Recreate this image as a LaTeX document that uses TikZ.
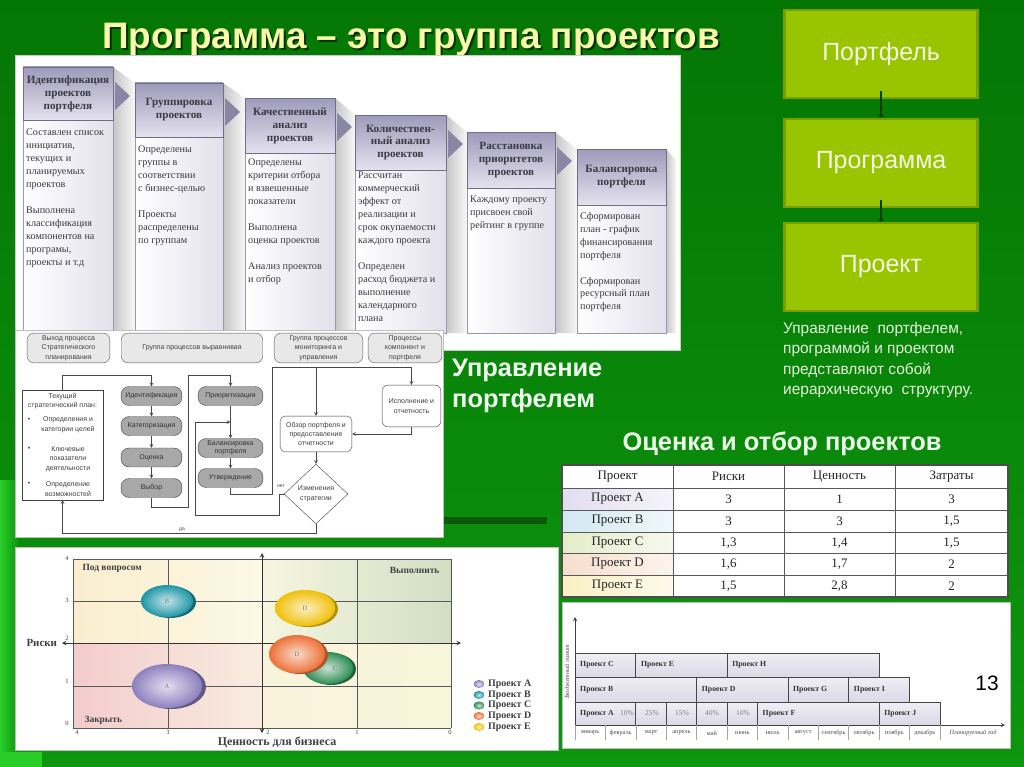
\documentclass[tikz,border=0pt]{standalone}
\usepackage{fontspec}
\setmainfont{Liberation Sans}
\newfontfamily\russerif{Liberation Serif}
\usetikzlibrary{shapes.geometric, positioning, calc}

\definecolor{bgtop}{RGB}{4,118,4}
\definecolor{bgbot}{RGB}{14,150,14}
\definecolor{bgbright}{RGB}{40,205,40}
\definecolor{darkstrip}{RGB}{10,88,10}
\definecolor{titlecol}{RGB}{250,250,168}
\definecolor{hierfill}{RGB}{153,197,0}
\definecolor{hierdraw}{RGB}{118,160,0}
\definecolor{hiertext}{RGB}{246,246,228}
\definecolor{hierarrow}{RGB}{0,62,0}
\definecolor{paratext}{RGB}{228,242,220}
\definecolor{hdrtop}{RGB}{158,154,186}
\definecolor{hdrbot}{RGB}{228,226,238}
\definecolor{colline}{RGB}{112,108,138}
\definecolor{bodyright}{RGB}{226,225,236}
\definecolor{chevron}{RGB}{138,134,166}
\definecolor{txtgray}{RGB}{58,58,64}
\definecolor{lanegray}{RGB}{232,232,232}
\definecolor{pillgray}{RGB}{168,168,168}
\definecolor{flowline}{RGB}{72,72,72}
\definecolor{rowA}{RGB}{226,222,240}
\definecolor{rowB}{RGB}{210,232,242}
\definecolor{rowC}{RGB}{228,236,202}
\definecolor{rowD}{RGB}{246,222,204}
\definecolor{rowE}{RGB}{249,240,196}
\definecolor{bubA}{RGB}{140,128,190}
\definecolor{bubB}{RGB}{30,150,165}
\definecolor{bubC}{RGB}{45,140,85}
\definecolor{bubD}{RGB}{236,112,55}
\definecolor{bubE}{RGB}{240,192,10}
\definecolor{gbartop}{RGB}{240,239,246}
\definecolor{gbarbot}{RGB}{218,216,230}
\definecolor{qtlL}{RGB}{250,238,206}
\definecolor{qtlR}{RGB}{251,248,228}
\definecolor{qtrL}{RGB}{247,246,224}
\definecolor{qtrR}{RGB}{210,222,196}
\definecolor{qblL}{RGB}{243,204,204}
\definecolor{qblR}{RGB}{249,236,224}
\definecolor{qbrL}{RGB}{250,243,220}
\definecolor{qbrR}{RGB}{247,245,218}

\tikzset{
  titletext/.style={font=\bfseries\fontsize{37}{40}\selectfont},
  hier/.style={draw=hierdraw, line width=2.5bp, fill=hierfill, text=hiertext,
    minimum width=194, minimum height=88, font=\fontsize{25}{27}\selectfont},
  hierlink/.style={-to, draw=hierarrow, line width=1.1bp, shorten <=-8bp},
  hdrtext/.style={font=\russerif\bfseries\fontsize{11.2}{13}\selectfont, text=txtgray,
    align=center, inner sep=0},
  bodytext/.style={font=\russerif\fontsize{10.2}{13}\selectfont, text=txtgray,
    align=left, inner sep=0, anchor=north west},
  lane/.style={draw=gray!70!black, fill=lanegray, rounded corners=7, minimum height=30,
    align=center, inner sep=1, font=\fontsize{7}{9.5}\selectfont, text=black!75},
  pill/.style={draw=gray!50!black, fill=pillgray, rounded corners=8, minimum height=19,
    align=center, inner sep=1, font=\fontsize{7}{8.5}\selectfont, text=black!80},
  fbox/.style={draw=gray!50!black, fill=white, align=center, inner sep=1,
    font=\fontsize{7}{9.5}\selectfont, text=black!75},
  ftext/.style={align=center, inner sep=0, font=\fontsize{7}{9.5}\selectfont, text=black!75},
  flow/.style={->, draw=flowline, line width=0.7bp},
  fline/.style={draw=flowline, line width=0.7bp},
  tabtext/.style={font=\russerif\fontsize{13}{14}\selectfont, text=black!85},
  chartlbl/.style={font=\russerif\bfseries\fontsize{9.5}{10}\selectfont, text=black!75},
  tick/.style={font=\russerif\fontsize{6.5}{7}\selectfont, text=black!75},
  legtext/.style={font=\russerif\bfseries\fontsize{10}{11}\selectfont, text=black!75, anchor=west, inner sep=0},
  bubble/.style={inner color=#1!25, outer color=#1},
  gbar/.style={top color=gbartop, bottom color=gbarbot, draw=gray!55!black, line width=0.8bp},
  gtext/.style={font=\russerif\bfseries\fontsize{7.8}{8}\selectfont, text=black!80, anchor=west, inner sep=0},
  gpct/.style={font=\russerif\fontsize{7.5}{8}\selectfont, text=black!50},
  month/.style={font=\russerif\fontsize{6.3}{7}\selectfont, text=black!70}
}

\begin{document}
\begin{tikzpicture}[x=1bp, y=-1bp, >=stealth]
% fon
\shade[top color=bgtop, bottom color=bgbot] (0,0) rectangle (1024,767);
\shade[left color=bgbright, right color=bgbot] (0,480) rectangle (18,767);
\fill[bgbright] (0,752) rectangle (42,767);
\useasboundingbox (0,0) rectangle (1024,767);

% zagolovok
\node[titletext, text=black!80!green] (titleshadow) at (413,42) {Программа – это группа проектов};
\node[titletext, text=titlecol] (title) at (411,40) {Программа – это группа проектов};

% verhnij risunok: etapy
\fill[white, draw=gray!40] (15,55) rectangle (680,350);
\foreach \xb/\yt/\xn/\yn in {113/67/135/83, 223/83/245/98, 335/98/355/115, 446/115/467/132, 555/132/577/149, 666/149/676/160}
  \shade[left color=gray!45, right color=gray!6] (\xb,\yt) -- (\xn,\yn) -- (\xn,333) -- (\xb,333) -- cycle;
\foreach \xa/\xb/\yt/\yh in {23/113/67/120, 135/223/83/137, 245/335/98/153, 355/446/115/170, 467/555/132/188, 577/666/149/205}{
  \shade[left color=white, right color=bodyright, draw=colline!70] (\xa,\yh) rectangle (\xb,333);
  \shade[top color=hdrtop, bottom color=hdrbot, draw=colline] (\xa,\yt) rectangle (\xb,\yh);
}
\foreach \xb/\yt in {113/67, 223/83, 335/98, 446/115, 555/132}
  \fill[chevron] (\xb+2,\yt+15) -- (\xb+17,\yt+29) -- (\xb+2,\yt+43) -- cycle;

\node[hdrtext] (hd1) at (68,93.5) {Идентификация\\проектов\\портфеля};
\node[hdrtext] (hd2) at (179,110) {Группировка\\проектов};
\node[hdrtext] (hd3) at (290,125.5) {Качественный\\анализ\\проектов};
\node[hdrtext] (hd4) at (400.5,142.5) {Количествен-\\ный анализ\\проектов};
\node[hdrtext] (hd5) at (511,160) {Расстановка\\приоритетов\\проектов};
\node[hdrtext] (hd6) at (621.5,177) {Балансировка\\портфеля};

\node[bodytext] (bd1) at (26,129) {Составлен список\\инициатив,\\текущих и\\планируемых\\проектов\\[13pt]Выполнена\\классификация\\компонентов на\\програмы,\\проекты и т.д};
\node[bodytext] (bd2) at (138,146) {Определены\\группы в\\соответствии\\с бизнес-целью\\[13pt]Проекты\\распределены\\по группам};
\node[bodytext] (bd3) at (248,159) {Определены\\критерии отбора\\и взвешенные\\показатели\\[13pt]Выполнена\\оценка проектов\\[13pt]Анализ проектов\\и отбор};
\node[bodytext] (bd4) at (358,172) {Рассчитан\\коммерческий\\эффект от\\реализации и\\срок окупаемости\\каждого проекта\\[13pt]Определен\\расход бюджета и\\выполнение\\календарного\\плана};
\node[bodytext] (bd5) at (470,196) {Каждому проекту\\присвоен свой\\рейтинг в группе};
\node[bodytext] (bd6) at (580,212) {Сформирован\\план - график\\финансирования\\портфеля\\[13pt]Сформирован\\ресурсный план\\портфеля};

% nizhnij risunok: processy
\fill[white, draw=gray!50] (15,330) rectangle (443,537);
\fill[darkstrip] (444,517) rectangle (547,524);
\node[lane, minimum width=83] (lane1) at (68.5,348) {Выход процесса\\Стратегического\\планирования};
\node[lane, minimum width=142] (lane2) at (192,348) {Группа процессов выравнивая};
\node[lane, minimum width=89] (lane3) at (318.5,348) {Группа процессов\\мониторинга и\\управления};
\node[lane, minimum width=74] (lane4) at (405,348) {Процессы\\компонент и\\портфеля};

\node[fbox, minimum width=81, minimum height=110] (plan) at (62.5,445) {};
\node[ftext] (plantitle) at (62.5,401) {Текущий\\стратегический план:};
\node[ftext] (pt1) at (68,425) {Определения и\\категории целей};
\node[ftext] (pt2) at (68,459) {Ключевые\\показатели\\деятельности};
\node[ftext] (pt3) at (68,489) {Определение\\возможностей};
\node[ftext] (bu1) at (29,420) {•};
\node[ftext] (bu2) at (29,449) {•};
\node[ftext] (bu3) at (29,484) {•};

\node[pill, minimum width=61] (ident) at (151.5,396) {Идентификация};
\node[pill, minimum width=61] (categ) at (151.5,426) {Категоризация};
\node[pill, minimum width=61] (ocenka) at (151.5,457.5) {Оценка};
\node[pill, minimum width=61] (vybor) at (151.5,488) {Выбор};
\node[pill, minimum width=65] (prior) at (230.5,396) {Приоритизация};
\node[pill, minimum width=65] (balans) at (230.5,448) {Балансировка\\портфеля};
\node[pill, minimum width=65] (utv) at (230.5,478) {Утверждение};
\node[fbox, rounded corners=5, minimum width=72, minimum height=36] (obzor) at (316,434) {Обзор портфеля и\\предоставление\\отчетности};
\node[fbox, rounded corners=6, minimum width=59, minimum height=42] (ispoln) at (411.5,406) {Исполнение и\\отчетность};
\node[fbox, diamond, minimum width=64, minimum height=60, inner sep=0] (diam) at (316,494) {Изменения\\стратегии};

\coordinate (bus) at (272,367);
\coordinate (junc) at ($(prior.south)!0.5!(balans.north)$);
\draw[flow] (plan.north) -- ++(0,-15) -| (ident.north);
\draw[flow] (ident) -- (categ);
\draw[flow] (categ) -- (ocenka);
\draw[flow] (ocenka) -- (vybor);
\draw[flow] (vybor.south) -- ++(0,10) -| (188,375) -| (prior.north);
\draw[flow] (prior) -- (balans);
\draw[flow] (balans) -- (utv);
\draw[fline] (utv.south) -- ++(0,7) -| (bus) -- (bus -| ispoln.north);
\draw[flow] (bus -| obzor.north) -- (obzor.north);
\draw[flow] (bus -| ispoln.north) -- (ispoln.north);
\draw[flow] (ispoln.south) |- (obzor.east);
\draw[flow] (obzor) -- (diam);
\draw[flow] (diam.west) -- ++(-5,0) |- (195,515) |- (junc);
\draw[flow] (diam.south) -- ++(0,9) -| (plan.south);
\node[ftext, font=\fontsize{5}{6}\selectfont] (net) at (281,486) {нет};
\node[ftext, font=\fontsize{5}{6}\selectfont] (da) at (182,530) {да};

% ierarhija
\node[hier] (portf) at (881,54) {Портфель};
\node[hier] (prog) at (881,163) {Программа};
\node[hier] (proj) at (881,267) {Проект};
\draw[hierlink] (portf.south) -- (prog.north);
\draw[hierlink] (prog.south) -- (proj.north);
\node[anchor=north west, align=left, inner sep=0, text=paratext,
  font=\fontsize{15.5}{20.5}\selectfont] (hiernote) at (783,322)
  {Управление \ портфелем,\\программой и проектом\\представляют собой\\иерархическую \ структуру.};

\node[anchor=north west, align=left, inner sep=0, text=white!94!green,
  font=\bfseries\fontsize{25.5}{31}\selectfont] (uprtitle) at (452,359) {Управление\\портфелем};
\node[text=white!92!green, font=\bfseries\fontsize{25.5}{27}\selectfont] (ocentitle) at (782,444) {Оценка и отбор проектов};

% tablica
\fill[white] (562,465) rectangle (1008,597);
\foreach \ya/\nm/\r/\v/\z/\cc [count=\k] in {488/{Проект A}/3/1/3/rowA, 510/{Проект B}/3/3/1{,}5/rowB,
    532/{Проект C}/1{,}3/1{,}4/1{,}5/rowC, 553/{Проект D}/1{,}6/1{,}7/2/rowD, 575/{Проект E}/1{,}5/2{,}8/2/rowE}{
  \shade[left color=\cc, right color=\cc!35] (562,\ya) rectangle (673,\ya+22);
  \node[tabtext] (tp\k) at (617.5,\ya+11) {\nm};
  \node[tabtext] (tr\k) at (728.5,\ya+11) {\r};
  \node[tabtext] (tv\k) at (839.5,\ya+11) {\v};
  \node[tabtext] (tz\k) at (951.5,\ya+11) {\z};
}
\node[tabtext] (th1) at (617.5,476.5) {Проект};
\node[tabtext] (th2) at (728.5,476.5) {Риски};
\node[tabtext] (th3) at (839.5,476.5) {Ценность};
\node[tabtext] (th4) at (951.5,476.5) {Затраты};
\foreach \gx in {673,784,895} \draw[gray!70!black, line width=1bp] (\gx,465) -- (\gx,597);
\foreach \gy in {488,510,532,553,575} \draw[gray!70!black, line width=1bp] (562,\gy) -- (1008,\gy);
\draw[gray!60!black, line width=1.8bp] (562,465) rectangle (1008,597);

% puzyrkovaja diagramma
\fill[white, draw=gray!50] (15,547) rectangle (558,750);
\shade[left color=qtlL, right color=qtlR] (73,559) rectangle (262,643);
\shade[left color=qtrL, right color=qtrR] (262,559) rectangle (451,643);
\shade[left color=qblL, right color=qblR] (73,643) rectangle (262,728);
\shade[left color=qbrL, right color=qbrR] (262,643) rectangle (451,728);
\foreach \gx in {73,168,357,451} \draw[gray!70!black, line width=0.6bp] (\gx,559) -- (\gx,728);
\foreach \gy in {559,601,686,728} \draw[gray!70!black, line width=0.6bp] (73,\gy) -- (451,\gy);
\draw[<->, black!80, line width=1bp] (262,733) -- (262,553);
\draw[<->, black!80, line width=1bp] (62,643) -- (461,643);
\foreach \t/\ty in {4/558, 3/600, 2/638, 1/681, 0/723} \node[tick] (yt\t) at (67,\ty) {\t};
\foreach \t/\tx in {4/77, 3/168, 2/268, 1/357, 0/450} \node[tick] (xt\t) at (\tx,732) {\t};
\node[chartlbl, anchor=west] (quest) at (79,568) {Под вопросом};
\node[chartlbl, anchor=east] (doit) at (443,570) {Выполнить};
\node[chartlbl, anchor=west] (close) at (81,720) {Закрыть};
\node[chartlbl, anchor=west, font=\russerif\bfseries\fontsize{11}{12}\selectfont] (risk) at (23,643) {Риски};
\node[chartlbl, font=\russerif\bfseries\fontsize{12}{13}\selectfont] (valtitle) at (277,742) {Ценность для бизнеса};

\fill[bubB!70!black] (170,602) ellipse [x radius=26bp, y radius=16bp];
\shade[bubble=bubB] (167,601) ellipse [x radius=26bp, y radius=16bp];
\fill[bubE!75!black] (308,609) ellipse [x radius=30bp, y radius=18bp];
\shade[bubble=bubE] (305,608) ellipse [x radius=30bp, y radius=18bp];
\fill[bubA!70!black] (171,687) ellipse [x radius=35bp, y radius=22bp];
\shade[bubble=bubA] (167,686) ellipse [x radius=35bp, y radius=22bp];
\fill[bubC!70!black] (331,669) ellipse [x radius=25bp, y radius=16bp];
\shade[bubble=bubC] (328,668) ellipse [x radius=25bp, y radius=16bp];
\fill[bubD!75!black] (300,655) ellipse [x radius=28bp, y radius=19bp];
\shade[bubble=bubD] (297,654) ellipse [x radius=28bp, y radius=19bp];
\node[tick, text=black!55] (lbB) at (167,601) {B};
\node[tick, text=black!55] (lbE) at (305,608) {D};
\node[tick, text=black!55] (lbA) at (167,686) {A};
\node[tick, text=black!55] (lbC) at (335,668) {C};
\node[tick, text=black!55] (lbD) at (297,654) {D};
\foreach \cc/\nm/\ly [count=\k] in {bubA/A/684, bubB/B/695, bubC/C/705.5, bubD/D/716, bubE/E/727}{
  \shade[bubble=\cc] (479,\ly) ellipse [x radius=5.5bp, y radius=4bp];
  \node[legtext] (leg\k) at (488,\ly) {Проект \nm};
}

% diagramma Ganta
\fill[white, draw=gray!50] (562,602) rectangle (1010,748);
\foreach \ma/\mb/\ya/\yb/\txt [count=\k] in {0/2/653/677/{Проект C}, 2/5/653/677/{Проект E}, 5/10/653/677/{Проект H},
    0/4/677/702/{Проект B}, 4/7/677/702/{Проект D}, 7/9/677/702/{Проект G}, 9/11/677/702/{Проект I},
    0/2/702/725/{Проект A}, 2/3/702/725/{}, 3/4/702/725/{}, 4/5/702/725/{}, 5/6/702/725/{},
    6/10/702/725/{Проект F}, 10/12/702/725/{Проект J}}{
  \shade[gbar] ({575+30.42*\ma},\ya) rectangle ({575+30.42*\mb},\yb);
  \node[gtext] (gb\k) at ({575+30.42*\ma+5},{(\ya+\yb)/2}) {\txt};
}
\foreach \px/\pc [count=\k] in {627/10\%, 652/25\%, 682/15\%, 712/40\%, 743/10\%}
  \node[gpct] (pc\k) at (\px,713.5) {\pc};
\draw[->, black!75, line width=0.9bp] (575,725) -- (575,617);
\draw[->, black!75, line width=0.9bp] (575,725) -- (1005,725);
\foreach \i in {0,...,12} \draw[gray!70, line width=0.6bp] ({575+30.42*\i},725) -- ++(0,15);
\foreach \m [count=\i from 0] in {январь, февраль, март, апрель, май, июнь, июль, август, сентябрь, октябрь, ноябрь, декабрь}
  \node[month] (mo\i) at ({575+30.42*\i+15.2},733) {\m};
\node[month, font=\russerif\itshape\fontsize{6.3}{7}\selectfont] (planyear) at (973,733) {Планируемый год};
\node[month, rotate=90, font=\russerif\itshape\fontsize{6.3}{7}\selectfont] (budget) at (567,672) {Бюджетный лимит};
\node[font=\fontsize{21}{22}\selectfont] (pagenum) at (987,683) {13};
\end{tikzpicture}
\end{document}
